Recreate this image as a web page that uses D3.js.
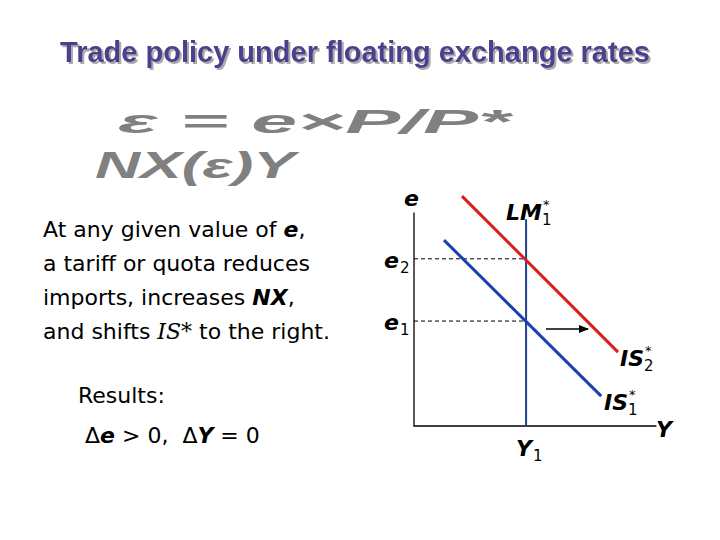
<!DOCTYPE html><html><head><meta charset="utf-8"><script src="https://d3js.org/d3.v7.min.js"></script>
<style>body{margin:0;background:#fff}</style></head><body><svg id="c" width="720" height="540"></svg>
<script>
const yLevels=[{name:"e2",v:7.6},{name:"e1",v:4.77}];
const Y1=4.67;
const IS1=[[1.25,8.45],[7.8,1.36]];
const IS2=[[2,10.45],[8.5,3.36]];
const svg=d3.select("#c");
const x=d3.scaleLinear().domain([0,10]).range([414,654]);
const y=d3.scaleLinear().domain([0,10]).range([426,206]);
const F="DejaVu Sans, Verdana, sans-serif";
const defs=svg.append("defs");
const f=defs.append("filter").attr("id","sh").attr("x","-5%").attr("y","-30%").attr("width","110%").attr("height","160%");
f.append("feDropShadow").attr("dx",2).attr("dy",2).attr("stdDeviation",0.3).attr("flood-color","#aaa");
// title
svg.append("text").attr("x",355).attr("y",62).attr("text-anchor","middle").attr("font-family","Liberation Sans, Arial").attr("font-weight","bold").attr("font-size",29).attr("fill","#4b3f8f").attr("filter","url(#sh)").text("Trade policy under floating exchange rates");
// garbled graphic approximation
svg.append("text").attr("x",118).attr("y",133).attr("font-family","Liberation Sans").attr("font-weight","bold").attr("font-style","italic").attr("font-size",34).attr("fill","#808080").attr("textLength",392).attr("lengthAdjust","spacingAndGlyphs").text("ε = e×P/P*");
svg.append("text").attr("x",95).attr("y",178).attr("font-family","Liberation Sans").attr("font-weight","bold").attr("font-style","italic").attr("font-size",36).attr("fill","#808080").attr("textLength",200).attr("lengthAdjust","spacingAndGlyphs").text("NX(ε)Y");
// left text
const lines=[["At any given value of ",["e","bi"],","],["a tariff or quota reduces"],["imports, increases ",["NX","bi"],","],["and shifts ",["IS*","serif"]," to the right."]];
lines.forEach((l,i)=>{const t=svg.append("text").attr("x",43).attr("y",237+i*34).attr("font-family",F).attr("font-size",22).attr("fill","#000");
l.forEach(p=>{if(typeof p==="string")t.append("tspan").text(p);else if(p[1]==="bi")t.append("tspan").attr("font-weight","bold").attr("font-style","italic").text(p[0]);else t.append("tspan").attr("font-family","DejaVu Serif").attr("font-style","italic").text(p[0]);});});
svg.append("text").attr("x",78).attr("y",403).attr("font-family",F).attr("font-size",22).text("Results:");
const r=svg.append("text").attr("x",85).attr("y",443).attr("font-family",F).attr("font-size",22).attr("xml:space","preserve");
r.append("tspan").text("Δ");r.append("tspan").attr("font-weight","bold").attr("font-style","italic").text("e");r.append("tspan").text(" > 0,  Δ");r.append("tspan").attr("font-weight","bold").attr("font-style","italic").text("Y");r.append("tspan").text(" = 0");
// axes
svg.append("path").attr("d",`M${x(0)},${y(9.7)}V${y(0)}H${x(10.1)}`).attr("fill","none").attr("stroke","#000").attr("stroke-width",1.3);
yLevels.forEach(d=>{svg.append("line").attr("x1",x(0)).attr("x2",x(Y1)).attr("y1",y(d.v)).attr("y2",y(d.v)).attr("stroke","#000").attr("stroke-dasharray","4,3").attr("stroke-width",1);});
svg.append("line").attr("x1",x(Y1)).attr("x2",x(Y1)).attr("y1",y(9.4)).attr("y2",y(0)).attr("stroke","#1f3f8f").attr("stroke-width",2);
const ln=d3.line().x(d=>x(d[0])).y(d=>y(d[1]));
svg.append("path").attr("d",ln(IS2)).attr("stroke","#d42020").attr("stroke-width",3).attr("fill","none");
svg.append("path").attr("d",ln(IS1)).attr("stroke","#1a3fb0").attr("stroke-width",3).attr("fill","none");
defs.append("marker").attr("id","ah").attr("viewBox","0 0 10 10").attr("refX",9).attr("refY",5).attr("markerWidth",7).attr("markerHeight",7).attr("orient","auto").append("path").attr("d","M0,1L10,5L0,9z");
svg.append("line").attr("x1",546).attr("x2",588).attr("y1",329).attr("y2",329).attr("stroke","#000").attr("stroke-width",1.5).attr("marker-end","url(#ah)");
function lab(xp,yp,main,sub,sup){const t=svg.append("text").attr("x",xp).attr("y",yp).attr("font-family",F).attr("font-weight","bold").attr("font-style","italic").attr("font-size",22).text(main);
 const w=t.node().getComputedTextLength();
 if(sup)svg.append("text").attr("x",xp+w+1).attr("y",yp-11).attr("font-family",F).attr("font-size",13).text(sup);
 if(sub)svg.append("text").attr("x",xp+w+(sup?0:1)).attr("y",yp+5).attr("font-family",F).attr("font-size",15).text(sub);}
lab(404,206,"e");
lab(384,268,"e","2");lab(384,330,"e","1");
lab(506,220,"LM","1","*");
lab(620,366,"IS","2","*");lab(604,410,"IS","1","*");
lab(656,437,"Y");lab(516,456,"Y","1");
</script></body></html>
